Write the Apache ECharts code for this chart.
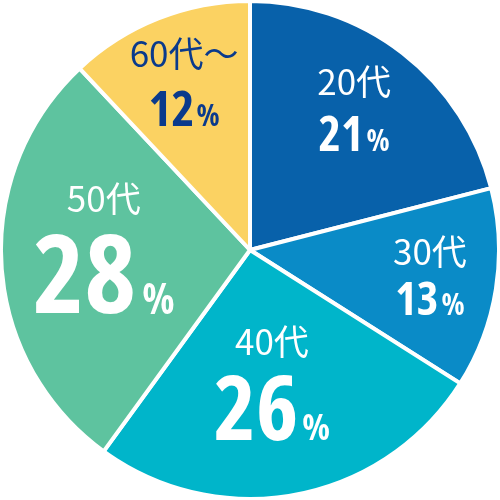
<!DOCTYPE html>
<html><head><meta charset="utf-8">
<script src="https://cdn.jsdelivr.net/npm/echarts@6/dist/echarts.min.js"></script>
<style>html,body{margin:0;padding:0;background:#fff}#c{width:500px;height:500px}</style>
</head><body><div id="c"></div>
<script>
const categories = ['20代', '30代', '40代', '50代', '60代～'];
const values = [21, 13, 26, 28, 12];

// styling (not data)
const colors = ['#0861AA', '#0A8BC7', '#00B5CA', '#5EC39F', '#FBD262'];
const textColors = ['#fff', '#fff', '#fff', '#fff', '#0A3A8C'];
const numSizes = [48, 46, 90, 110, 49];
const pctSizes = [30, 30, 36, 42, 30];
const ageSizes = [35, 35, 35, 35, 35];
const ageLineHeights = [65, 54, 56, 56, 67];
const pctGaps = [3, 3, 4, 6, 2];
const labelOffsets = [[26, -44], [54, 5], [-2, 11], [-19, -4], [-19, -53]];

const numFont = '"Open Sans", sans-serif';
const ageFont = '"Noto Sans CJK JP", "Noto Sans", sans-serif';

const data = categories.map((c, i) => ({
  name: c,
  value: values[i],
  itemStyle: { color: colors[i] },
  label: {
    offset: labelOffsets[i],
    color: textColors[i],
    rich: {
      a: { fontFamily: ageFont, fontSize: ageSizes[i], color: textColors[i], lineHeight: ageLineHeights[i] },
      n: { fontFamily: numFont, fontStyle: 'condensed', fontWeight: 'bold', fontSize: numSizes[i], color: textColors[i], lineHeight: numSizes[i], verticalAlign: 'bottom' },
      p: { fontFamily: numFont, fontStyle: 'condensed', fontWeight: 'bold', fontSize: pctSizes[i], color: textColors[i], verticalAlign: 'bottom',
           padding: [0, 0, Math.round(0.21 * (numSizes[i] - pctSizes[i])), pctGaps[i]] }
    }
  }
}));

const chart = echarts.init(document.getElementById('c'));
chart.setOption({
  animation: false,
  series: [{
    type: 'pie',
    center: ['50%', '50%'],
    radius: [0, 249],
    startAngle: 90,
    clockwise: true,
    data: data,
    itemStyle: { borderColor: '#fff', borderWidth: 4 },
    label: {
      show: true,
      position: 'inside',
      align: 'center',
      formatter: p => '{a|' + p.name + '}\n{n|' + p.value + '}{p|%}'
    },
    labelLine: { show: false },
    emphasis: { disabled: true }
  }]
});
</script></body></html>
